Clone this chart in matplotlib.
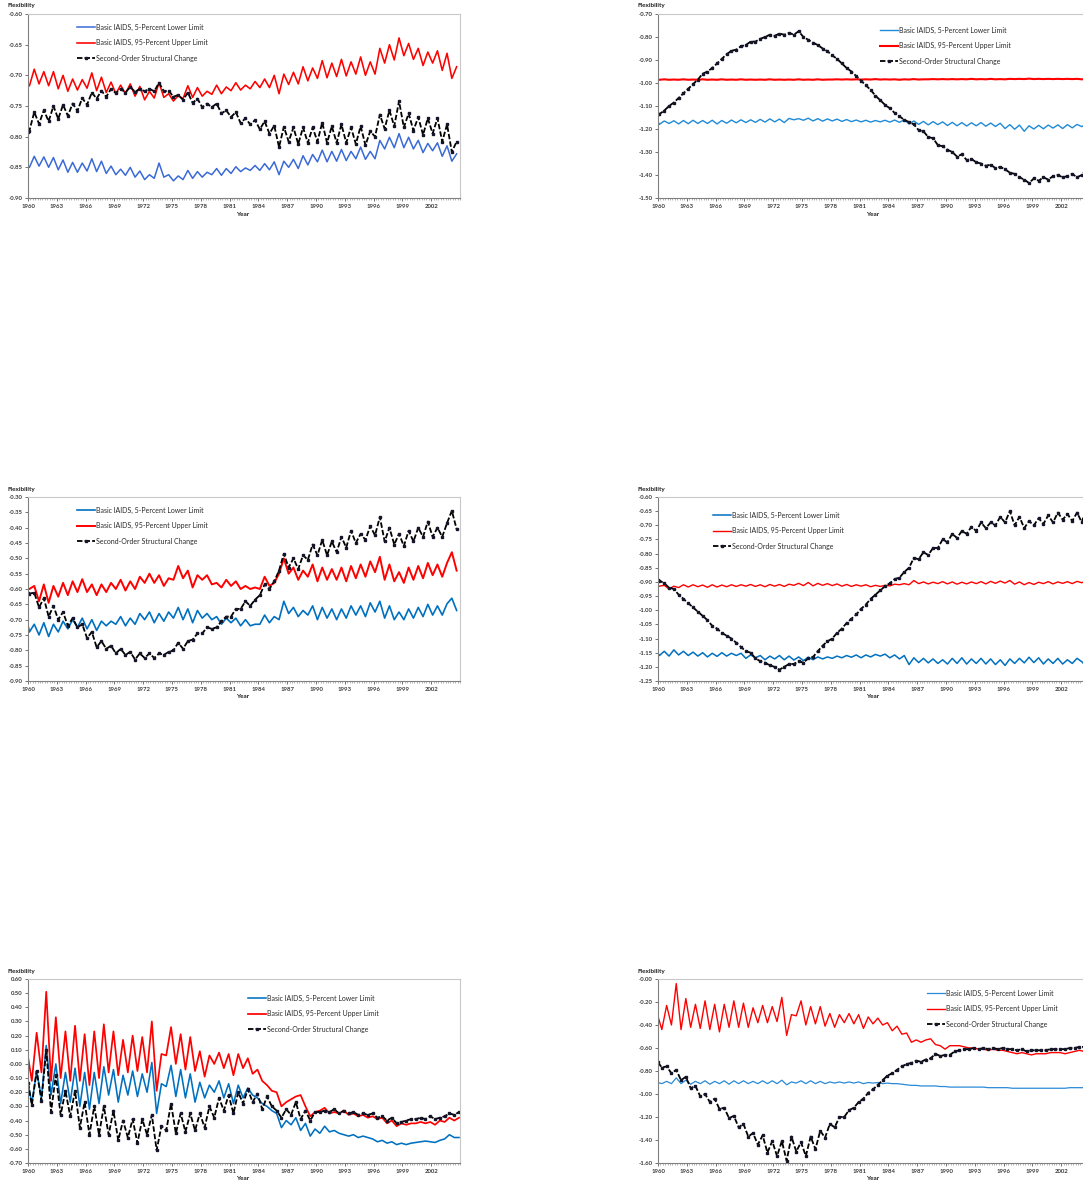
import numpy as np
import matplotlib
matplotlib.use("Agg")
import matplotlib.pyplot as plt
from matplotlib.ticker import FormatStrFormatter, MultipleLocator

plt.rcParams['font.family'] = ['Lato', 'DejaVu Sans']

# ---------------- DATA ----------------
# first value is 1960.0, then two readings per year (first half, second half)
years = np.arange(1960, 2005)
tick_years = list(range(1960, 2003, 3))

series_names = ["Basic IAIDS, 5-Percent Lower Limit",
                "Basic IAIDS, 95-Percent Upper Limit",
                "Second-Order Structural Change"]

p1_lower = [-0.851,
    -0.850, -0.832, -0.848, -0.833, -0.850, -0.834, -0.854, -0.838, -0.858, -0.842,
    -0.858, -0.843, -0.856, -0.836, -0.857, -0.840, -0.860, -0.848, -0.862, -0.853,
    -0.863, -0.850, -0.866, -0.856, -0.870, -0.862, -0.868, -0.843, -0.866, -0.862,
    -0.872, -0.864, -0.870, -0.855, -0.868, -0.857, -0.866, -0.858, -0.862, -0.852,
    -0.863, -0.852, -0.860, -0.849, -0.857, -0.851, -0.855, -0.847, -0.855, -0.844,
    -0.854, -0.841, -0.862, -0.840, -0.850, -0.837, -0.852, -0.831, -0.846, -0.829,
    -0.841, -0.822, -0.841, -0.824, -0.840, -0.821, -0.839, -0.824, -0.836, -0.817,
    -0.837, -0.824, -0.836, -0.806, -0.820, -0.801, -0.818, -0.795, -0.818, -0.801,
    -0.820, -0.806, -0.826, -0.811, -0.823, -0.810, -0.832, -0.815, -0.840, -0.828]
p1_upper = [-0.718,
    -0.717, -0.690, -0.714, -0.694, -0.717, -0.694, -0.722, -0.700, -0.726, -0.706,
    -0.724, -0.707, -0.721, -0.696, -0.725, -0.703, -0.728, -0.711, -0.730, -0.716,
    -0.730, -0.714, -0.734, -0.718, -0.740, -0.726, -0.737, -0.712, -0.736, -0.730,
    -0.742, -0.733, -0.738, -0.717, -0.736, -0.720, -0.734, -0.726, -0.731, -0.716,
    -0.730, -0.719, -0.725, -0.712, -0.724, -0.716, -0.722, -0.710, -0.720, -0.706,
    -0.720, -0.700, -0.730, -0.698, -0.715, -0.695, -0.714, -0.686, -0.709, -0.688,
    -0.705, -0.676, -0.704, -0.680, -0.702, -0.674, -0.701, -0.678, -0.698, -0.670,
    -0.700, -0.678, -0.698, -0.656, -0.680, -0.650, -0.675, -0.639, -0.668, -0.648,
    -0.674, -0.656, -0.684, -0.662, -0.680, -0.660, -0.692, -0.664, -0.705, -0.686]
p1_second = [-0.793,
    -0.790, -0.760, -0.779, -0.757, -0.775, -0.750, -0.771, -0.748, -0.766, -0.746,
    -0.758, -0.737, -0.748, -0.728, -0.738, -0.725, -0.735, -0.722, -0.729, -0.722,
    -0.728, -0.719, -0.727, -0.722, -0.726, -0.722, -0.726, -0.712, -0.726, -0.725,
    -0.735, -0.732, -0.740, -0.728, -0.745, -0.738, -0.752, -0.746, -0.752, -0.746,
    -0.762, -0.757, -0.768, -0.760, -0.778, -0.770, -0.780, -0.773, -0.788, -0.775,
    -0.795, -0.782, -0.817, -0.784, -0.808, -0.785, -0.812, -0.785, -0.810, -0.785,
    -0.808, -0.777, -0.810, -0.783, -0.810, -0.780, -0.810, -0.785, -0.812, -0.783,
    -0.814, -0.791, -0.800, -0.764, -0.787, -0.757, -0.783, -0.742, -0.785, -0.762,
    -0.790, -0.768, -0.797, -0.770, -0.795, -0.770, -0.808, -0.780, -0.825, -0.808]

p2_lower = [-1.168,
    -1.180, -1.165, -1.176, -1.164, -1.178, -1.163, -1.177, -1.162, -1.176, -1.163,
    -1.176, -1.162, -1.178, -1.163, -1.175, -1.161, -1.173, -1.160, -1.172, -1.160,
    -1.171, -1.158, -1.170, -1.156, -1.169, -1.157, -1.172, -1.154, -1.160, -1.155,
    -1.162, -1.153, -1.165, -1.155, -1.166, -1.156, -1.165, -1.157, -1.167, -1.159,
    -1.168, -1.161, -1.169, -1.162, -1.170, -1.163, -1.169, -1.162, -1.170, -1.161,
    -1.171, -1.160, -1.178, -1.165, -1.180, -1.167, -1.182, -1.168, -1.181, -1.169,
    -1.185, -1.171, -1.186, -1.172, -1.187, -1.173, -1.186, -1.172, -1.188, -1.174,
    -1.189, -1.175, -1.198, -1.181, -1.201, -1.183, -1.210, -1.186, -1.200, -1.184,
    -1.199, -1.183, -1.196, -1.182, -1.198, -1.181, -1.195, -1.180, -1.190, -1.175]
p2_upper = [-0.985,
    -0.986, -0.984, -0.986, -0.985, -0.986, -0.984, -0.986, -0.985, -0.986, -0.984,
    -0.986, -0.985, -0.986, -0.984, -0.986, -0.985, -0.986, -0.984, -0.986, -0.985,
    -0.986, -0.985, -0.986, -0.984, -0.986, -0.985, -0.986, -0.985, -0.986, -0.984,
    -0.986, -0.985, -0.986, -0.984, -0.986, -0.985, -0.985, -0.984, -0.985, -0.984,
    -0.985, -0.984, -0.985, -0.984, -0.985, -0.983, -0.985, -0.984, -0.985, -0.984,
    -0.986, -0.984, -0.985, -0.983, -0.985, -0.984, -0.984, -0.983, -0.984, -0.983,
    -0.984, -0.983, -0.984, -0.983, -0.984, -0.982, -0.984, -0.983, -0.984, -0.982,
    -0.984, -0.983, -0.984, -0.982, -0.983, -0.982, -0.983, -0.981, -0.983, -0.982,
    -0.983, -0.982, -0.983, -0.982, -0.983, -0.982, -0.983, -0.982, -0.984, -0.983]
p2_second = [-1.135,
    -1.135, -1.120, -1.100, -1.085, -1.065, -1.045, -1.025, -1.005, -0.985, -0.960,
    -0.950, -0.935, -0.915, -0.895, -0.875, -0.860, -0.855, -0.840, -0.835, -0.820,
    -0.820, -0.808, -0.800, -0.790, -0.795, -0.785, -0.790, -0.782, -0.790, -0.775,
    -0.800, -0.812, -0.825, -0.835, -0.850, -0.862, -0.880, -0.895, -0.915, -0.935,
    -0.950, -0.970, -0.990, -1.010, -1.030, -1.055, -1.075, -1.095, -1.110, -1.130,
    -1.145, -1.160, -1.170, -1.180, -1.205, -1.210, -1.235, -1.240, -1.270, -1.275,
    -1.290, -1.300, -1.320, -1.310, -1.335, -1.330, -1.345, -1.350, -1.360, -1.355,
    -1.370, -1.365, -1.375, -1.390, -1.395, -1.410, -1.420, -1.435, -1.415, -1.425,
    -1.410, -1.420, -1.405, -1.400, -1.410, -1.405, -1.395, -1.410, -1.400, -1.370]

p3_lower = [-0.718,
    -0.740, -0.715, -0.750, -0.710, -0.755, -0.715, -0.740, -0.705, -0.730, -0.700,
    -0.725, -0.695, -0.730, -0.700, -0.735, -0.705, -0.720, -0.705, -0.715, -0.690,
    -0.720, -0.695, -0.715, -0.680, -0.700, -0.675, -0.710, -0.680, -0.705, -0.675,
    -0.695, -0.660, -0.700, -0.665, -0.710, -0.670, -0.695, -0.680, -0.700, -0.690,
    -0.715, -0.695, -0.710, -0.695, -0.720, -0.700, -0.720, -0.715, -0.715, -0.685,
    -0.710, -0.690, -0.700, -0.640, -0.680, -0.660, -0.690, -0.670, -0.685, -0.655,
    -0.700, -0.660, -0.695, -0.665, -0.700, -0.665, -0.695, -0.655, -0.685, -0.655,
    -0.690, -0.645, -0.675, -0.640, -0.695, -0.655, -0.700, -0.675, -0.700, -0.665,
    -0.695, -0.660, -0.690, -0.650, -0.685, -0.655, -0.685, -0.648, -0.630, -0.670]
p3_upper = [-0.598,
    -0.600, -0.590, -0.640, -0.585, -0.645, -0.590, -0.625, -0.580, -0.620, -0.575,
    -0.610, -0.568, -0.610, -0.585, -0.620, -0.585, -0.610, -0.580, -0.600, -0.570,
    -0.605, -0.575, -0.600, -0.560, -0.580, -0.550, -0.580, -0.555, -0.590, -0.565,
    -0.570, -0.525, -0.565, -0.540, -0.595, -0.555, -0.570, -0.555, -0.585, -0.580,
    -0.595, -0.570, -0.590, -0.575, -0.600, -0.590, -0.600, -0.595, -0.600, -0.560,
    -0.590, -0.580, -0.550, -0.500, -0.550, -0.530, -0.570, -0.540, -0.560, -0.520,
    -0.575, -0.530, -0.570, -0.535, -0.570, -0.530, -0.575, -0.525, -0.565, -0.520,
    -0.560, -0.510, -0.545, -0.495, -0.570, -0.520, -0.575, -0.545, -0.580, -0.530,
    -0.570, -0.525, -0.565, -0.515, -0.555, -0.520, -0.560, -0.515, -0.480, -0.540]
p3_second = [-0.612,
    -0.615, -0.612, -0.660, -0.630, -0.690, -0.655, -0.700, -0.675, -0.720, -0.695,
    -0.725, -0.715, -0.760, -0.740, -0.790, -0.770, -0.795, -0.785, -0.810, -0.795,
    -0.815, -0.805, -0.830, -0.810, -0.825, -0.810, -0.825, -0.810, -0.815, -0.805,
    -0.800, -0.775, -0.795, -0.770, -0.765, -0.745, -0.745, -0.725, -0.730, -0.725,
    -0.705, -0.690, -0.690, -0.665, -0.665, -0.640, -0.655, -0.635, -0.620, -0.585,
    -0.600, -0.575, -0.540, -0.485, -0.530, -0.500, -0.535, -0.490, -0.505, -0.455,
    -0.490, -0.440, -0.490, -0.445, -0.480, -0.430, -0.465, -0.410, -0.450, -0.420,
    -0.440, -0.395, -0.425, -0.365, -0.445, -0.400, -0.455, -0.420, -0.460, -0.410,
    -0.445, -0.400, -0.430, -0.380, -0.430, -0.400, -0.430, -0.385, -0.345, -0.405]

p4_lower = [-1.152,
    -1.160, -1.145, -1.162, -1.140, -1.158, -1.145, -1.160, -1.148, -1.162, -1.150,
    -1.165, -1.152, -1.163, -1.150, -1.162, -1.152, -1.160, -1.152, -1.170, -1.158,
    -1.168, -1.160, -1.175, -1.162, -1.172, -1.160, -1.175, -1.162, -1.176, -1.165,
    -1.178, -1.166, -1.175, -1.165, -1.172, -1.165, -1.170, -1.162, -1.168, -1.160,
    -1.166, -1.158, -1.168, -1.158, -1.165, -1.156, -1.162, -1.155, -1.168, -1.158,
    -1.172, -1.160, -1.192, -1.168, -1.185, -1.170, -1.186, -1.172, -1.188, -1.175,
    -1.190, -1.170, -1.188, -1.168, -1.190, -1.172, -1.188, -1.170, -1.190, -1.172,
    -1.192, -1.175, -1.195, -1.172, -1.188, -1.170, -1.186, -1.166, -1.185, -1.168,
    -1.190, -1.172, -1.188, -1.170, -1.190, -1.175, -1.188, -1.170, -1.182, -1.200]
p4_upper = [-0.914,
    -0.915, -0.912, -0.925, -0.915, -0.920, -0.910, -0.918, -0.910, -0.917, -0.911,
    -0.919, -0.910, -0.918, -0.911, -0.917, -0.910, -0.916, -0.910, -0.915, -0.909,
    -0.916, -0.910, -0.917, -0.909, -0.915, -0.909, -0.916, -0.908, -0.912, -0.905,
    -0.913, -0.902, -0.914, -0.905, -0.912, -0.906, -0.913, -0.907, -0.915, -0.909,
    -0.916, -0.910, -0.915, -0.910, -0.917, -0.912, -0.916, -0.912, -0.914, -0.908,
    -0.910, -0.906, -0.910, -0.895, -0.906, -0.900, -0.907, -0.901, -0.906, -0.899,
    -0.907, -0.900, -0.908, -0.901, -0.907, -0.900, -0.906, -0.899, -0.907, -0.898,
    -0.905, -0.897, -0.904, -0.895, -0.908, -0.900, -0.910, -0.902, -0.909, -0.901,
    -0.906, -0.899, -0.907, -0.900, -0.905, -0.899, -0.906, -0.898, -0.903, -0.895]
p4_second = [-0.892,
    -0.895, -0.905, -0.920, -0.925, -0.945, -0.960, -0.975, -0.990, -1.005, -1.020,
    -1.035, -1.055, -1.065, -1.080, -1.090, -1.100, -1.115, -1.130, -1.145, -1.150,
    -1.170, -1.180, -1.185, -1.195, -1.200, -1.210, -1.200, -1.190, -1.190, -1.180,
    -1.185, -1.170, -1.165, -1.145, -1.125, -1.110, -1.100, -1.080, -1.065, -1.045,
    -1.030, -1.015, -0.995, -0.980, -0.960, -0.945, -0.930, -0.915, -0.905, -0.890,
    -0.885, -0.865, -0.850, -0.815, -0.820, -0.795, -0.805, -0.780, -0.780, -0.750,
    -0.760, -0.730, -0.745, -0.720, -0.730, -0.705, -0.720, -0.690, -0.710, -0.690,
    -0.700, -0.670, -0.690, -0.650, -0.700, -0.670, -0.710, -0.685, -0.700, -0.675,
    -0.695, -0.665, -0.690, -0.655, -0.680, -0.660, -0.685, -0.655, -0.690, -0.630]

p5_lower = [-0.135,
    -0.28, -0.05, -0.24, 0.13, -0.22, 0.00, -0.28, -0.06, -0.27, -0.03,
    -0.30, -0.06, -0.32, -0.06, -0.28, -0.02, -0.22, -0.04, -0.27, -0.08,
    -0.22, -0.05, -0.23, -0.07, -0.20, 0.01, -0.35, -0.14, -0.16, -0.01,
    -0.23, -0.04, -0.24, -0.07, -0.27, -0.13, -0.24, -0.15, -0.20, -0.12,
    -0.24, -0.14, -0.28, -0.15, -0.24, -0.17, -0.22, -0.24, -0.28, -0.30,
    -0.33, -0.35, -0.45, -0.40, -0.43, -0.38, -0.47, -0.42, -0.51, -0.46,
    -0.49, -0.44, -0.48, -0.47, -0.49, -0.50, -0.51, -0.50, -0.52, -0.51,
    -0.52, -0.53, -0.55, -0.54, -0.56, -0.55, -0.57, -0.56, -0.57, -0.56,
    -0.555, -0.55, -0.545, -0.55, -0.555, -0.54, -0.53, -0.50, -0.52, -0.52]
p5_upper = [0.05,
    -0.12, 0.22, -0.06, 0.51, -0.12, 0.33, -0.10, 0.23, -0.12, 0.27,
    -0.12, 0.21, -0.15, 0.23, -0.10, 0.28, -0.06, 0.23, -0.08, 0.17,
    -0.06, 0.20, -0.05, 0.19, -0.06, 0.30, -0.19, 0.07, 0.06, 0.26,
    0.00, 0.21, -0.04, 0.19, -0.05, 0.09, -0.09, 0.06, 0.00, 0.08,
    -0.03, 0.07, -0.08, 0.07, -0.03, 0.04, -0.07, -0.04, -0.12, -0.15,
    -0.19, -0.20, -0.30, -0.27, -0.25, -0.23, -0.22, -0.30, -0.37, -0.34,
    -0.33, -0.31, -0.35, -0.34, -0.35, -0.33, -0.36, -0.35, -0.37, -0.36,
    -0.38, -0.37, -0.39, -0.38, -0.42, -0.40, -0.44, -0.42, -0.43, -0.42,
    -0.42, -0.41, -0.42, -0.41, -0.43, -0.40, -0.41, -0.38, -0.40, -0.38]
p5_second = [-0.135,
    -0.29, -0.05, -0.26, 0.10, -0.34, -0.08, -0.36, -0.19, -0.37, -0.19,
    -0.45, -0.27, -0.50, -0.30, -0.50, -0.30, -0.50, -0.33, -0.54, -0.40,
    -0.52, -0.39, -0.56, -0.39, -0.50, -0.36, -0.61, -0.44, -0.47, -0.28,
    -0.49, -0.35, -0.48, -0.35, -0.47, -0.35, -0.45, -0.30, -0.38, -0.24,
    -0.33, -0.22, -0.35, -0.20, -0.28, -0.18, -0.27, -0.21, -0.32, -0.23,
    -0.30, -0.33, -0.38, -0.32, -0.36, -0.27, -0.39, -0.33, -0.40, -0.34,
    -0.34, -0.33, -0.34, -0.32, -0.35, -0.33, -0.35, -0.34, -0.36, -0.35,
    -0.36, -0.35, -0.38, -0.37, -0.40, -0.38, -0.42, -0.41, -0.40, -0.39,
    -0.39, -0.38, -0.39, -0.37, -0.39, -0.38, -0.37, -0.35, -0.36, -0.34]

p6_lower = [-0.90,
    -0.91, -0.89, -0.91, -0.86, -0.91, -0.88, -0.915, -0.89, -0.91, -0.885,
    -0.915, -0.89, -0.91, -0.885, -0.915, -0.885, -0.91, -0.885, -0.91, -0.89,
    -0.91, -0.885, -0.91, -0.885, -0.91, -0.88, -0.92, -0.895, -0.905, -0.885,
    -0.91, -0.885, -0.91, -0.89, -0.91, -0.895, -0.905, -0.895, -0.905, -0.895,
    -0.905, -0.895, -0.91, -0.90, -0.905, -0.90, -0.91, -0.905, -0.91, -0.91,
    -0.915, -0.92, -0.925, -0.925, -0.93, -0.93, -0.93, -0.93, -0.935, -0.935,
    -0.94, -0.94, -0.94, -0.94, -0.94, -0.94, -0.94, -0.94, -0.945, -0.945,
    -0.945, -0.945, -0.945, -0.95, -0.95, -0.95, -0.95, -0.95, -0.95, -0.95,
    -0.95, -0.95, -0.95, -0.95, -0.95, -0.945, -0.945, -0.945, -0.945, -0.94]
p6_upper = [-0.325,
    -0.44, -0.23, -0.40, -0.04, -0.44, -0.17, -0.42, -0.22, -0.43, -0.19,
    -0.44, -0.22, -0.46, -0.22, -0.42, -0.19, -0.42, -0.21, -0.42, -0.25,
    -0.38, -0.23, -0.38, -0.24, -0.37, -0.16, -0.49, -0.31, -0.32, -0.19,
    -0.40, -0.24, -0.39, -0.24, -0.41, -0.30, -0.42, -0.31, -0.38, -0.30,
    -0.39, -0.31, -0.43, -0.33, -0.39, -0.34, -0.40, -0.38, -0.45, -0.41,
    -0.48, -0.47, -0.55, -0.53, -0.55, -0.53, -0.52, -0.57, -0.58, -0.61,
    -0.58, -0.58, -0.58, -0.59, -0.60, -0.60, -0.61, -0.61, -0.62, -0.61,
    -0.62, -0.62, -0.63, -0.64, -0.65, -0.64, -0.65, -0.66, -0.65, -0.65,
    -0.65, -0.64, -0.64, -0.64, -0.65, -0.64, -0.63, -0.62, -0.63, -0.61]
p6_second = [-0.725,
    -0.77, -0.76, -0.82, -0.79, -0.88, -0.85, -0.95, -0.93, -1.02, -1.00,
    -1.07, -1.04, -1.13, -1.12, -1.21, -1.19, -1.29, -1.26, -1.37, -1.34,
    -1.44, -1.36, -1.51, -1.41, -1.54, -1.41, -1.58, -1.37, -1.50, -1.42,
    -1.54, -1.37, -1.48, -1.32, -1.38, -1.26, -1.29, -1.20, -1.20, -1.14,
    -1.12, -1.07, -1.04, -0.99, -0.96, -0.92, -0.88, -0.84, -0.82, -0.79,
    -0.76, -0.74, -0.73, -0.71, -0.72, -0.70, -0.69, -0.65, -0.67, -0.66,
    -0.66, -0.63, -0.62, -0.61, -0.61, -0.60, -0.61, -0.60, -0.61, -0.60,
    -0.61, -0.60, -0.61, -0.61, -0.62, -0.61, -0.63, -0.62, -0.62, -0.62,
    -0.62, -0.61, -0.61, -0.61, -0.61, -0.60, -0.60, -0.59, -0.59, -0.58]

# ---------------- LAYOUT ----------------
W, H = 1083, 1183
fig = plt.figure(figsize=(W / 100, H / 100), dpi=100)
fig.patch.set_facecolor('white')

TXT = '#3a3a3a'


def half_year_x(offset):
    x = np.repeat(years, 2) + np.tile([offset, offset + 0.5], len(years))
    return np.concatenate([[1960.0], x])


def draw_panel(left, top, lower, upper, second, ylim, ystep, offset,
               blue, lw_blue, lw_red, leg_x, leg_y):
    width, height = 432, 184
    ax = fig.add_axes([left / W, 1 - (top + height) / H, width / W, height / H])
    x = half_year_x(offset)
    ax.plot(x, lower, color=blue, lw=lw_blue, label=series_names[0])
    ax.plot(x, upper, color='#ff0000', lw=lw_red, label=series_names[1])
    ax.plot(x, second, color='black', lw=1.3, ls=(0, (3, 1.2)),
            marker='s', ms=1.7, mfc='#15152a', mec='#15152a',
            label=series_names[2])

    ax.set_xlim(1960, 2005)
    ax.set_ylim(*ylim)
    ax.set_yticks(np.arange(ylim[0], ylim[1] + ystep / 2, ystep))
    ax.yaxis.set_major_formatter(FormatStrFormatter('%.2f'))
    ax.set_xticks(tick_years)
    ax.set_xticklabels([str(t) for t in tick_years])
    ax.xaxis.set_minor_locator(MultipleLocator(0.25))
    ax.tick_params(axis='both', labelsize=4.3, colors=TXT, length=2,
                   width=0.5, pad=2)
    ax.tick_params(axis='x', which='minor', length=1.5, width=0.4,
                   color='#808080')
    for lab in ax.get_xticklabels() + ax.get_yticklabels():
        lab.set_fontweight('bold')
    for side in ['top', 'right']:
        ax.spines[side].set_color('#c8c8c8')
        ax.spines[side].set_linewidth(0.8)
    for side in ['left', 'bottom']:
        ax.spines[side].set_color('#808080')
        ax.spines[side].set_linewidth(0.8)

    leg = ax.legend(loc='upper left', bbox_to_anchor=(leg_x / W, 1 - leg_y / H),
                    bbox_transform=fig.transFigure, frameon=False,
                    fontsize=5.0, labelspacing=1.23, handlelength=2.6,
                    handletextpad=0.2, borderpad=0, borderaxespad=0,
                    numpoints=1)
    for t in leg.get_texts():
        t.set_color('#2a2a2a')

    fig.text((left - 20) / W, 1 - (top - 8) / H, 'Flexibility',
             fontsize=4.6, fontweight='bold', color='#222222',
             ha='left', va='center')
    fig.text((left + 215) / W, 1 - (top + height + 16) / H, 'Year',
             fontsize=4.6, fontweight='bold', color='#222222',
             ha='center', va='center')
    return ax


draw_panel(28, 14, p1_lower, p1_upper, p1_second, (-0.90, -0.60), 0.05, 0.15,
           '#3a6ad6', 1.1, 1.15, 77, 23.5)
draw_panel(658, 14, p2_lower, p2_upper, p2_second, (-1.50, -0.70), 0.10, 0.15,
           '#1f8ad6', 1.0, 1.5, 880, 26.5)
draw_panel(28, 497, p3_lower, p3_upper, p3_second, (-0.90, -0.30), 0.05, 0.15,
           '#0070c0', 1.2, 1.4, 77, 506.5)
draw_panel(658, 497, p4_lower, p4_upper, p4_second, (-1.25, -0.60), 0.05, 0.15,
           '#0070c0', 1.1, 1.0, 713, 511.5)
draw_panel(28, 979, p5_lower, p5_upper, p5_second, (-0.70, 0.60), 0.10, 0.4,
           '#0070c0', 1.15, 1.25, 248, 994.5)
draw_panel(658, 979, p6_lower, p6_upper, p6_second, (-1.60, 0.00), 0.20, 0.4,
           '#2a8ad6', 0.9, 1.0, 927, 989.5)

fig.savefig('out.png', dpi=100, facecolor='white')
